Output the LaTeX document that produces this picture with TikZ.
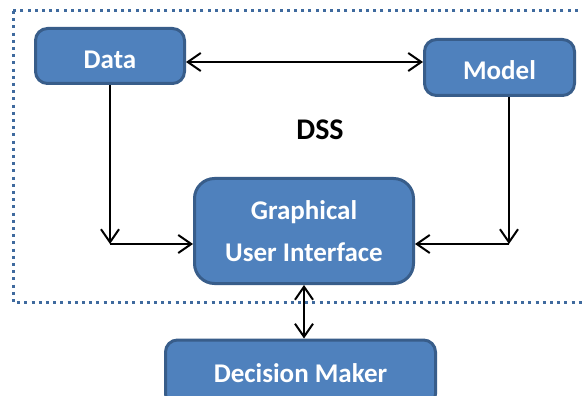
\documentclass[tikz,border=0pt]{standalone}
\usepackage{fontspec}
\setmainfont{Carlito}
\usetikzlibrary{arrows.meta,calc}
\definecolor{boxfill}{HTML}{4F81BD}
\definecolor{boxedge}{HTML}{385D8A}
\definecolor{frameblue}{HTML}{3F6A9E}
\tikzset{
  block/.style={draw=boxedge, fill=boxfill, line width=3pt, text=white,
    font=\bfseries\fontsize{27}{40}\selectfont, align=center, inner sep=0pt},
  lowtext/.style={text height=25pt, text depth=0pt},
  link/.style={line width=2pt, black},
  >={Straight Barb[length=13pt,width=18pt,line width=2pt]}
}
\begin{document}
\begin{tikzpicture}[x=1pt,y=-1pt]
  \clip (0,0) rectangle (582,396);
  \fill[white] (0,0) rectangle (582,396);

  % DSS boundary (runs off the right edge)
  \draw[frameblue, line width=3pt, dash pattern=on 3pt off 4.2pt]
    (13,11) rectangle (620,302);

  % components
  \node[block, lowtext, rounded corners=12pt, minimum width=149pt, minimum height=55pt]
    (data) at (110,56) {Data};
  \node[block, lowtext, rounded corners=12pt, minimum width=150pt, minimum height=56pt]
    (model) at (499.5,67.5) {Model};
  \node[block, rounded corners=20pt, minimum width=219pt, minimum height=105pt]
    (gui) at (304,231) {Graphical\\[2pt]User Interface};
  \node[block, rounded corners=12pt, minimum width=270pt, minimum height=66pt]
    (dm) at (300.5,373) {Decision Maker};

  \node[font=\bfseries\fontsize{30}{36}\selectfont] (dss) at (320,130) {DSS};

  % data <-> model
  \draw[link, <->] ([yshift=-6pt]data.east) -- ([yshift=5.5pt]model.west);

  % data -> user interface
  \coordinate (dcorner) at (110,244);
  \draw[link, ->] (data.south) -- (dcorner);
  \draw[link, ->] (dcorner) -- (dcorner -| gui.west);

  % model -> user interface
  \coordinate (mcorner) at (509,244);
  \draw[link, ->] ([xshift=9.5pt]model.south) -- (mcorner);
  \draw[link, ->] (mcorner) -- (mcorner -| gui.east);

  % user interface <-> decision maker
  \draw[link, <->] (gui.south) -- (gui.south |- dm.north);
\end{tikzpicture}
\end{document}
